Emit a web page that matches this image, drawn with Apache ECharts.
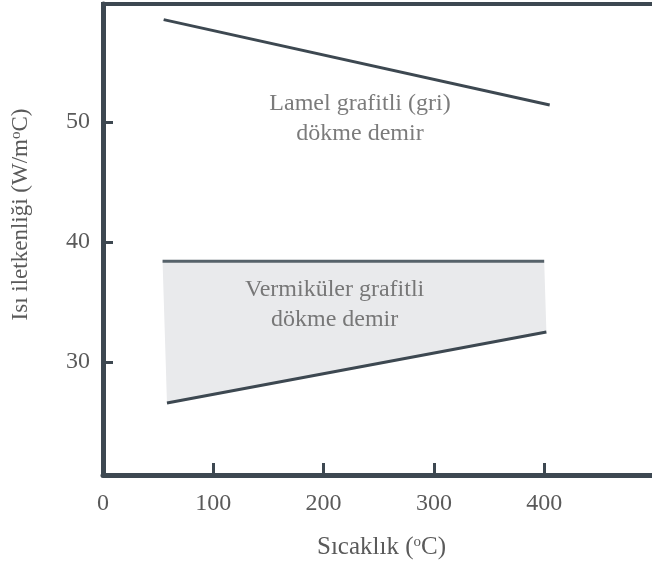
<!DOCTYPE html>
<html>
<head>
<meta charset="utf-8">
<script src="https://cdn.jsdelivr.net/npm/echarts@6/dist/echarts.min.js"></script>
<style>
  html, body { margin: 0; padding: 0; background: #fff; }
  #chart { width: 652px; height: 565px; }
</style>
</head>
<body>
<div id="chart"></div>
<script>
// values
var xTicks = [0, 100, 200, 300, 400];
var yTicks = [30, 40, 50];
var lamelLine = [[55, 58.5], [405, 51.4]];
var vermTop = [[54, 38.4], [400, 38.4]];
var vermBottom = [[58, 26.6], [402, 32.5]];
var notes = [
    { text: 'Lamel grafitli (gri)\ndökme demir', at: [233, 50.25] },
    { text: 'Vermiküler grafitli\ndökme demir', at: [210, 34.8] }
];

var ink = '#3d4851';
var textCol = '#5a5a5a';
var serif = '"Liberation Serif", "DejaVu Serif", serif';
var supStyle = { fontFamily: serif, fontSize: 15, color: textCol, verticalAlign: 'top', padding: [0, 0, 9, 0] };

var chart = echarts.init(document.getElementById('chart'));

var option = {
    animation: false,
    grid: {
        left: 103, right: -8, top: 4, bottom: 90,
        outerBoundsMode: 'none',
        show: true, borderColor: ink, borderWidth: 4, backgroundColor: 'transparent'
    },
    xAxis: {
        type: 'value', min: 0, max: 505,
        name: 'Sıcaklık ({sup|o}C)',
        nameLocation: 'middle', nameGap: 60,
        nameTextStyle: { fontFamily: serif, fontSize: 25, color: textCol, rich: { sup: supStyle } },
        splitLine: { show: false },
        axisLine: { onZero: false, lineStyle: { color: ink, width: 5 } },
        axisTick: { inside: true, length: 12, lineStyle: { color: ink, width: 3 }, customValues: [100, 200, 300, 400] },
        axisLabel: { customValues: xTicks, margin: 17, fontFamily: serif, fontSize: 24, color: textCol }
    },
    yAxis: {
        type: 'value', min: 20.6, max: 59.8,
        name: 'Isı iletkenliği (W/m{sup|o}C)',
        nameLocation: 'middle', nameGap: 70,
        nameTextStyle: { fontFamily: serif, fontSize: 23, color: textCol, padding: [0, 0, 0, 50], rich: { sup: supStyle } },
        splitLine: { show: false },
        axisLine: { onZero: false, lineStyle: { color: ink, width: 5 } },
        axisTick: { inside: true, length: 10, lineStyle: { color: ink, width: 3 }, customValues: yTicks },
        axisLabel: { customValues: yTicks, margin: 13, fontFamily: serif, fontSize: 24, color: textCol }
    },
    series: [
        {
            // shaded band for vermicular iron
            type: 'custom',
            silent: true,
            data: [0],
            renderItem: function (params, api) {
                var pts = [vermTop[0], vermTop[1], vermBottom[1], vermBottom[0]].map(function (p) {
                    return api.coord(p);
                });
                return { type: 'polygon', shape: { points: pts }, style: { fill: '#e9eaec' } };
            },
            z: 1
        },
        { type: 'line', data: lamelLine, symbol: 'none', lineStyle: { color: ink, width: 3 }, z: 3 },
        { type: 'line', data: vermTop, symbol: 'none', lineStyle: { color: '#56626a', width: 3 }, z: 3 },
        { type: 'line', data: vermBottom, symbol: 'none', lineStyle: { color: ink, width: 3 }, z: 3 },
        {
            type: 'scatter',
            symbolSize: 0,
            silent: true,
            data: notes.map(function (n) { return { value: n.at, name: n.text }; }),
            label: {
                show: true, position: 'inside', formatter: '{b}',
                fontFamily: serif, fontSize: 24, lineHeight: 30, color: textCol, align: 'center'
            },
            z: 4
        }
    ]
};

chart.setOption(option);
</script>
</body>
</html>
